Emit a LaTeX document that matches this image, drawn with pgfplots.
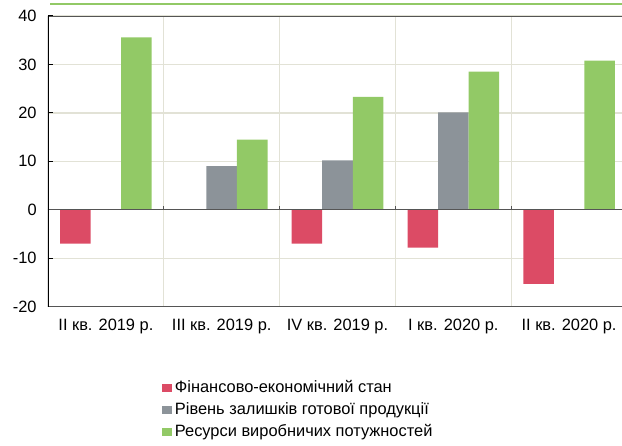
\documentclass[border=0pt]{standalone}
\usepackage{pgfplots}
\pgfplotsset{compat=1.18}
\usepackage{fontspec}
\setmainfont{Liberation Sans}
\definecolor{cred}{HTML}{DC4B65}
\definecolor{cgray}{HTML}{8C9399}
\definecolor{cgreen}{HTML}{92C966}
\definecolor{cgrid}{HTML}{E2E2D6}
\definecolor{cdark}{HTML}{555555}
\pgfplotsset{mylegend/.style={legend image code/.code={\fill[##1] (0pt,-3pt) rectangle (7.5pt,3pt);}}}
\begin{document}
\begin{tikzpicture}
\useasboundingbox (-36pt,-104.5pt) rectangle (430.5pt,230pt);
\begin{axis}[at={(0,0)}, anchor=south west, scale only axis,
  width=434.25pt, height=218pt,
  ybar=0pt, bar width=22.9pt,
  xmin=-0.5, xmax=4.5, ymin=-20, ymax=40,
  xtick={0,1,2,3,4},
  xticklabels={II кв. 2019 р., III кв. 2019 р., IV кв. 2019 р., I кв. 2020 р., II кв. 2020 р.},
  minor xtick={0.5,1.5,2.5,3.5},
  xminorgrids, minor x grid style={color=cgrid, line width=1pt},
  ytick={-20,-10,0,10,20,30,40},
  yticklabels={-20,-10,0,10,20,30,40},
  ymajorgrids, major y grid style={color=cgrid, line width=1pt},
  axis line style={draw=none},
  xtick style={draw=none}, minor x tick style={draw=none},
  ytick style={black, line width=0.8pt}, tick align=inside, major tick length=4pt,
  tick label style={font=\fontsize{12.3}{14}\selectfont},
  yticklabel style={xshift=-5pt},
  xticklabel style={yshift=-6pt},
  legend style={at={(0.19,-0.235)}, anchor=north west, draw=none, fill=none,
    font=\fontsize{12.3}{14}\selectfont, cells={anchor=west}, row sep=2pt},
]
\addplot[fill=cred, draw=none, mylegend] coordinates {(0,-7) (2,-7) (3,-7.8) (4,-15.3)};
\addplot[fill=cgray, draw=none, mylegend] coordinates {(1,9) (2,10.2) (3,20.1)};
\addplot[fill=cgreen, draw=none, mylegend] coordinates {(0,35.6) (1,14.5) (2,23.3) (3,28.5) (4,30.8)};
\legend{Фінансово-економічний стан, Рівень залишків готової продукції, Ресурси виробничих потужностей}
\draw[cdark, line width=0.9pt] (axis cs:-0.5,0) -- (axis cs:4.5,0);
\draw[cdark, line width=0.8pt] (axis cs:0.5,0) -- ([yshift=3pt]axis cs:0.5,0);
\draw[cdark, line width=0.8pt] (axis cs:1.5,0) -- ([yshift=3pt]axis cs:1.5,0);
\draw[cdark, line width=0.8pt] (axis cs:2.5,0) -- ([yshift=3pt]axis cs:2.5,0);
\draw[cdark, line width=0.8pt] (axis cs:3.5,0) -- ([yshift=3pt]axis cs:3.5,0);
\draw[cdark, line width=1pt] (rel axis cs:0,1) -- (rel axis cs:1,1);
\draw[cdark, line width=0.8pt] (rel axis cs:0,0) -- (rel axis cs:1,0);
\draw[black, line width=1.1pt] (rel axis cs:0,0) -- (rel axis cs:0,1);
\end{axis}
\draw[cgreen, line width=1pt] (1.5pt,227pt) -- (430.5pt,227pt);
\end{tikzpicture}
\end{document}
